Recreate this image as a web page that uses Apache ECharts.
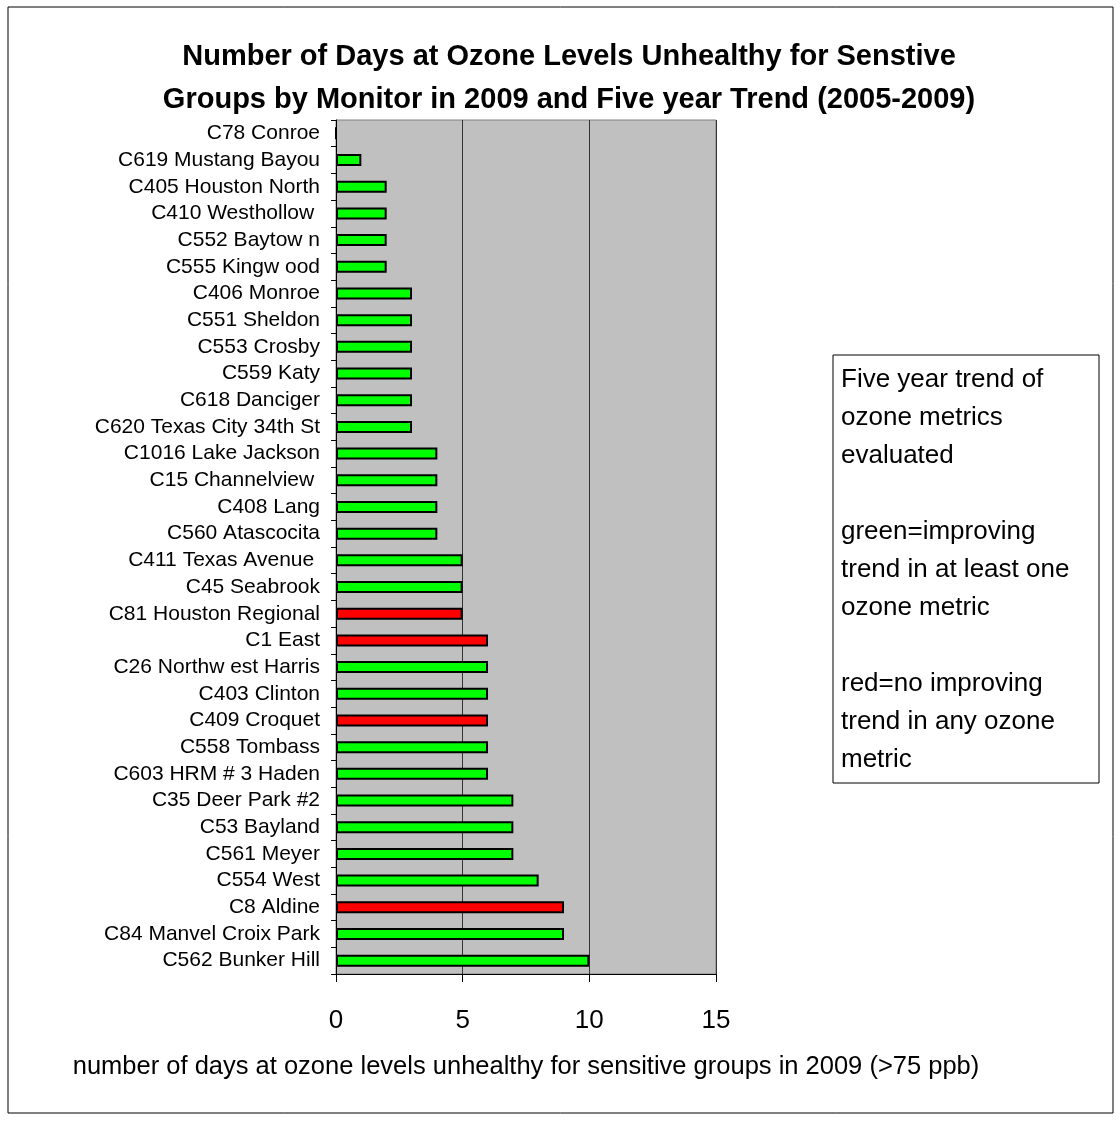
<!DOCTYPE html>
<html>
<head>
<meta charset="utf-8">
<script src="https://cdn.jsdelivr.net/npm/echarts@6/dist/echarts.min.js"></script>
<style>
html,body{margin:0;padding:0;background:#fff;}
#chart{width:1120px;height:1121px;}
</style>
</head>
<body>
<div id="chart"></div>
<script>
const monitors = [
  "C78 Conroe","C619 Mustang Bayou","C405 Houston North","C410 Westhollow ","C552 Baytow n",
  "C555 Kingw ood","C406 Monroe","C551 Sheldon","C553 Crosby","C559 Katy","C618 Danciger",
  "C620 Texas City 34th St","C1016 Lake Jackson","C15 Channelview ","C408 Lang","C560 Atascocita",
  "C411 Texas Avenue ","C45 Seabrook","C81 Houston Regional","C1 East","C26 Northw est Harris",
  "C403 Clinton","C409 Croquet","C558 Tombass","C603 HRM # 3 Haden","C35 Deer Park #2",
  "C53 Bayland","C561 Meyer","C554 West","C8 Aldine","C84 Manvel Croix Park","C562 Bunker Hill"
];
const days2009 = [0,1,2,2,2,2,3,3,3,3,3,3,4,4,4,4,5,5,5,6,6,6,6,6,6,7,7,7,8,9,9,10];
const trend = ["g","g","g","g","g","g","g","g","g","g","g","g","g","g","g","g",
               "g","g","r","r","g","g","r","g","g","g","g","g","g","r","g","g"];
const xTicks = [0,5,10,15];
const titleLines = ["Number of Days at Ozone Levels Unhealthy for Senstive",
                    "Groups by Monitor in 2009 and Five year Trend (2005-2009)"];
const xAxisName = "number of days at ozone levels unhealthy for sensitive groups in 2009 (>75 ppb)";
const noteLines = ["Five year trend of","ozone metrics","evaluated","",
                   "green=improving","trend in at least one","ozone metric","",
                   "red=no improving","trend in any ozone","metric"];

const trendColor = {g:"#00ff00", r:"#ff0000"};
const font = "Arial, 'Liberation Sans', sans-serif";

const chart = echarts.init(document.getElementById('chart'));
chart.setOption({
  backgroundColor:"#ffffff",
  animation:false,
  title:{
    text: titleLines.join("\n"),
    left: 564, top: 30, textAlign:"center",
    textStyle:{fontFamily:font, fontSize:29, fontWeight:"bold", color:"#000", lineHeight:43}
  },
  grid:{left:336, right:404, top:120, bottom:147, show:true,
        backgroundColor:"#c0c0c0", borderColor:"#808080", borderWidth:1},
  xAxis:{
    type:"value", min:xTicks[0], max:xTicks[xTicks.length-1], interval:5,
    name:xAxisName, nameLocation:"middle", nameGap:80,
    nameTextStyle:{fontFamily:font, fontSize:25.5, color:"#000"},
    axisLine:{show:true, lineStyle:{color:"#000", width:1}},
    axisTick:{show:true, length:8, lineStyle:{color:"#000"}},
    axisLabel:{fontFamily:font, fontSize:26, color:"#000", margin:34},
    splitLine:{show:true, lineStyle:{color:"#333", width:1}}
  },
  yAxis:{
    type:"category", data:monitors, inverse:true,
    axisLine:{show:true, lineStyle:{color:"#000", width:1}},
    axisTick:{show:true, length:5, lineStyle:{color:"#000"}},
    axisLabel:{fontFamily:font, fontSize:21, color:"#000", margin:16, interval:0}
  },
  series:[{
    type:"bar",
    barWidth:12,
    data: days2009.map((v,i)=>({value:v, itemStyle:{color:trendColor[trend[i]]}})),
    itemStyle:{borderColor:"#000", borderWidth:2}
  }],
  graphic:[
    {type:"rect", shape:{x:8, y:7, width:1105, height:1106},
     style:{fill:null, stroke:"#000", lineWidth:1}, silent:true},
    {type:"rect", shape:{x:833, y:355, width:266, height:428},
     style:{fill:"#fff", stroke:"#000", lineWidth:1}, silent:true},
    {type:"text", left:841, top:361,
     style:{text:noteLines.join("\n"), font:"26px "+font, fill:"#000", lineHeight:38}}
  ]
});
</script>
</body>
</html>
